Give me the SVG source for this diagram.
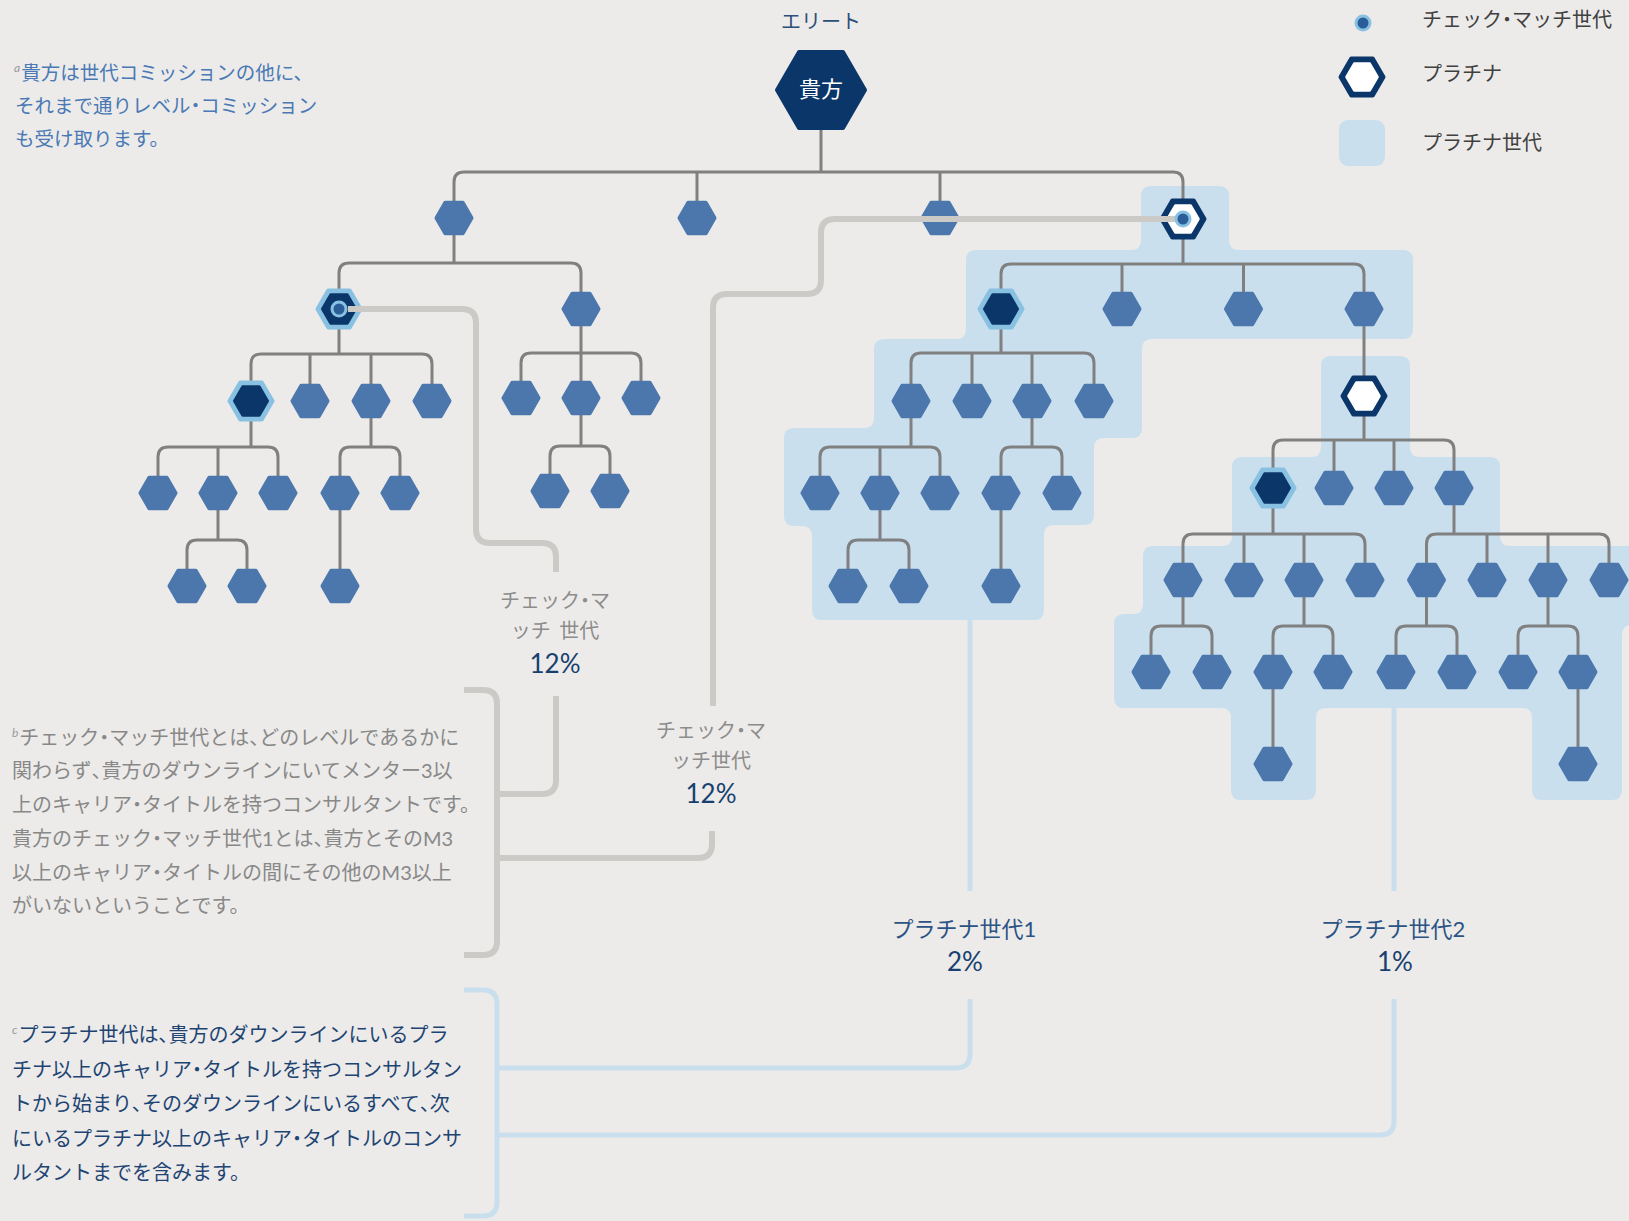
<svg xmlns="http://www.w3.org/2000/svg" xmlns:xlink="http://www.w3.org/1999/xlink" width="1629" height="1221" viewBox="0 0 1629 1221">
<style>
.hb{fill:#4C77AD;stroke:#4C77AD;stroke-width:4;stroke-linejoin:round}
.hl{fill:#88C1E2;stroke:#88C1E2;stroke-width:4;stroke-linejoin:round}
.hd{fill:#0B3669;stroke:#0B3669;stroke-width:3;stroke-linejoin:round}
.hn{fill:#0B3669;stroke:#0B3669;stroke-width:4;stroke-linejoin:round}
.hw{fill:#FFFFFF;stroke:#FFFFFF;stroke-width:2.5;stroke-linejoin:round}
.dot-o{fill:#88C1E2}
.dot-i{fill:#2B5E98}
.region{fill:#C9DFEE}
.tree{fill:none;stroke:#808080;stroke-width:3}
.cm{fill:none;stroke:#CBCAC7;stroke-width:6}
.pl{fill:none;stroke:#C9DFEE;stroke-width:5}
text{font-family:Lato,"Noto Sans CJK JP",sans-serif}
.jp{font-family:"Noto Sans CJK JP",sans-serif}
.p{font-feature-settings:"palt" 1}
.lg{font-size:20px;fill:#404040}
.na{font-size:19.5px;fill:#4A79B5}
.nb{font-size:20px;fill:#888888}
.nc{font-size:20px;fill:#1E4473}
.sup{font-size:12px;font-style:italic;fill:#9A9A9A}
.cml{font-size:20px;fill:#8C8C8C;text-anchor:middle}
.pct{font-size:26px;fill:#17406F;text-anchor:middle}
.pll{font-size:22px;fill:#2B5384;text-anchor:middle}
</style>
<defs>
<polygon id="h18" points="-17.5,0 -8.75,-15.16 8.75,-15.16 17.5,0 8.75,15.16 -8.75,15.16"/>
<polygon id="h21" points="-21.5,0 -10.75,-18.62 10.75,-18.62 21.5,0 10.75,18.62 -10.75,18.62"/>
<polygon id="h16" points="-16.5,0 -8.25,-14.29 8.25,-14.29 16.5,0 8.25,14.29 -8.25,14.29"/>
<polygon id="h15" points="-15.5,0 -7.75,-13.42 7.75,-13.42 15.5,0 7.75,13.42 -7.75,13.42"/>
<polygon id="h44" points="-44,0 -22,-38.1 22,-38.1 44,0 22,38.1 -22,38.1"/>
<g id="blue"><use xlink:href="#h18" class="hb"/></g>
<g id="cmnode"><use xlink:href="#h21" class="hl"/><use xlink:href="#h16" class="hd"/></g>
<g id="plat"><use xlink:href="#h21" class="hn"/><use xlink:href="#h15" class="hw"/></g>
<g id="dot"><circle r="8.5" class="dot-o"/><circle r="5.5" class="dot-i"/></g>
</defs>
<rect x="0" y="0" width="1629" height="1221" fill="#ECEBE9"/>

<g id="platinum-regions">
<path id="region-gen1" class="region" d="M 1151 186 H 1219 Q 1229 186 1229 196 V 240 Q 1229 250 1239 250 H 1403 Q 1413 250 1413 260 V 329 Q 1413 339 1403 339 H 1152 Q 1142 339 1142 349 V 428 Q 1142 438 1132 438 H 1104 Q 1094 438 1094 448 V 515 Q 1094 525 1084 525 H 1054 Q 1044 525 1044 535 V 610 Q 1044 620 1034 620 H 822 Q 812 620 812 610 V 536 Q 812 526 802 526 H 794 Q 784 526 784 516 V 438 Q 784 428 794 428 H 864 Q 874 428 874 418 V 349 Q 874 339 884 339 H 956 Q 966 339 966 329 V 260 Q 966 250 976 250 H 1131 Q 1141 250 1141 240 V 196 Q 1141 186 1151 186 Z"/>
<path id="region-gen2" class="region" d="M 1331 356 H 1400 Q 1410 356 1410 366 V 447 Q 1410 457 1420 457 H 1490 Q 1500 457 1500 467 V 536 Q 1500 546 1510 546 H 1640 V 625 H 1632 Q 1622 625 1622 635 V 790 Q 1622 800 1612 800 H 1542 Q 1532 800 1532 790 V 718 Q 1532 708 1522 708 H 1326 Q 1316 708 1316 718 V 790 Q 1316 800 1306 800 H 1241 Q 1231 800 1231 790 V 718 Q 1231 708 1221 708 H 1124 Q 1114 708 1114 698 V 624 Q 1114 614 1124 614 H 1133 Q 1143 614 1143 604 V 556 Q 1143 546 1153 546 H 1222 Q 1232 546 1232 536 V 467 Q 1232 457 1242 457 H 1311 Q 1321 457 1321 447 V 366 Q 1321 356 1331 356 Z"/>
</g>

<g id="connectors">
<path class="tree" d="M 821 90 V 172 M 454 218 V 182 Q 454 172 464 172 H 1173 Q 1183 172 1183 182 V 219 M 697 172 V 218 M 940 172 V 218"/>
<path class="tree" d="M 454 218 V 263 M 339 309 V 273 Q 339 263 349 263 H 571 Q 581 263 581 273 V 309"/>
<path class="tree" d="M 339 309 V 354 M 251 401 V 364 Q 251 354 261 354 H 422 Q 432 354 432 364 V 401 M 310 354 V 401 M 371 354 V 401"/>
<path class="tree" d="M 251 401 V 447 M 158 493 V 457 Q 158 447 168 447 H 268 Q 278 447 278 457 V 493 M 218 447 V 493"/>
<path class="tree" d="M 218 493 V 540 M 187 586 V 550 Q 187 540 197 540 H 237 Q 247 540 247 550 V 586"/>
<path class="tree" d="M 371 401 V 447 M 340 493 V 457 Q 340 447 350 447 H 390 Q 400 447 400 457 V 493 M 340 493 V 586"/>
<path class="tree" d="M 581 309 V 353 M 521 398 V 363 Q 521 353 531 353 H 631 Q 641 353 641 363 V 398 M 581 353 V 398"/>
<path class="tree" d="M 581 398 V 446 M 550 491 V 456 Q 550 446 560 446 H 600 Q 610 446 610 456 V 491"/>
<path class="tree" d="M 1183 219 V 264 M 1001 309 V 274 Q 1001 264 1011 264 H 1354 Q 1364 264 1364 274 V 309 M 1122 264 V 309 M 1243.5 264 V 309"/>
<path class="tree" d="M 1001 309 V 353 M 911 401 V 363 Q 911 353 921 353 H 1084 Q 1094 353 1094 363 V 401 M 972 353 V 401 M 1032 353 V 401"/>
<path class="tree" d="M 911 401 V 447 M 820 493 V 457 Q 820 447 830 447 H 930 Q 940 447 940 457 V 493 M 880 447 V 493"/>
<path class="tree" d="M 880 493 V 540 M 848 586 V 550 Q 848 540 858 540 H 899 Q 909 540 909 550 V 586"/>
<path class="tree" d="M 1032 401 V 447 M 1001 493 V 457 Q 1001 447 1011 447 H 1052 Q 1062 447 1062 457 V 493 M 1001 493 V 586"/>
<path class="tree" d="M 1364 309 V 396"/>
<path class="tree" d="M 1364 396 V 440 M 1273 488 V 450 Q 1273 440 1283 440 H 1444 Q 1454 440 1454 450 V 488 M 1334 440 V 488 M 1394 440 V 488"/>
<path class="tree" d="M 1273 488 V 534 M 1183 580 V 544 Q 1183 534 1193 534 H 1355 Q 1365 534 1365 544 V 580 M 1244 534 V 580 M 1304 534 V 580"/>
<path class="tree" d="M 1183 580 V 626 M 1151 672 V 636 Q 1151 626 1161 626 H 1202 Q 1212 626 1212 636 V 672"/>
<path class="tree" d="M 1304 580 V 626 M 1273 672 V 636 Q 1273 626 1283 626 H 1323 Q 1333 626 1333 636 V 672 M 1273 672 V 764"/>
<path class="tree" d="M 1454 488 V 534 M 1426.5 580 V 544 Q 1426.5 534 1436.5 534 H 1599 Q 1609 534 1609 544 V 580 M 1487 534 V 580 M 1548 534 V 580"/>
<path class="tree" d="M 1426.5 580 V 626 M 1396 672 V 636 Q 1396 626 1406 626 H 1447 Q 1457 626 1457 636 V 672"/>
<path class="tree" d="M 1548 580 V 626 M 1518 672 V 636 Q 1518 626 1528 626 H 1568 Q 1578 626 1578 636 V 672 M 1578 672 V 764"/>
<path class="pl" d="M 970 615 V 891 M 970 999 V 1054 Q 970 1068 956 1068 H 497"/>
<path class="pl" d="M 1394 700 V 891 M 1394 999 V 1121 Q 1394 1135 1380 1135 H 497"/>
<path class="pl" d="M 464 990 H 483 Q 497 990 497 1004 V 1202 Q 497 1216 483 1216 H 464"/>
<path class="cm" d="M 556 696 V 780 Q 556 794 542 794 H 497"/>
<path class="cm" d="M 712 831 V 844 Q 712 858 698 858 H 497"/>
<path class="cm" d="M 464 690 H 483 Q 497 690 497 704 V 941 Q 497 955 483 955 H 464"/>
</g>

<g id="nodes">
<g id="n-root"><use xlink:href="#h44" class="hn" transform="translate(821,90)"/><text x="821" y="97" class="jp" font-size="22" fill="#FFFFFF" text-anchor="middle">貴方</text></g>
<g id="n-l1-1"><use xlink:href="#blue" x="454" y="218"/></g>
<g id="n-l1-2"><use xlink:href="#blue" x="697" y="218"/></g>
<g id="n-l1-3"><use xlink:href="#blue" x="940" y="218"/></g>
<g id="n-p1"><use xlink:href="#plat" x="1183" y="219"/></g>
<g id="n-b"><use xlink:href="#cmnode" x="339" y="309"/></g>
<g id="n-c"><use xlink:href="#blue" x="581" y="309"/></g>
<g id="n-b1"><use xlink:href="#cmnode" x="251" y="401"/></g>
<g id="n-b2"><use xlink:href="#blue" x="310" y="401"/></g>
<g id="n-b3"><use xlink:href="#blue" x="371" y="401"/></g>
<g id="n-b4"><use xlink:href="#blue" x="432" y="401"/></g>
<g id="n-b1a"><use xlink:href="#blue" x="158" y="493"/></g>
<g id="n-b1b"><use xlink:href="#blue" x="218" y="493"/></g>
<g id="n-b1c"><use xlink:href="#blue" x="278" y="493"/></g>
<g id="n-b3a"><use xlink:href="#blue" x="340" y="493"/></g>
<g id="n-b3b"><use xlink:href="#blue" x="400" y="493"/></g>
<g id="n-b1b1"><use xlink:href="#blue" x="187" y="586"/></g>
<g id="n-b1b2"><use xlink:href="#blue" x="247" y="586"/></g>
<g id="n-b3a1"><use xlink:href="#blue" x="340" y="586"/></g>
<g id="n-c1"><use xlink:href="#blue" x="521" y="398"/></g>
<g id="n-c2"><use xlink:href="#blue" x="581" y="398"/></g>
<g id="n-c3"><use xlink:href="#blue" x="641" y="398"/></g>
<g id="n-c2a"><use xlink:href="#blue" x="550" y="491"/></g>
<g id="n-c2b"><use xlink:href="#blue" x="610" y="491"/></g>
<g id="n-d1"><use xlink:href="#cmnode" x="1001" y="309"/></g>
<g id="n-d2"><use xlink:href="#blue" x="1122" y="309"/></g>
<g id="n-d3"><use xlink:href="#blue" x="1243.5" y="309"/></g>
<g id="n-d4"><use xlink:href="#blue" x="1364" y="309"/></g>
<g id="n-d1a"><use xlink:href="#blue" x="911" y="401"/></g>
<g id="n-d1b"><use xlink:href="#blue" x="972" y="401"/></g>
<g id="n-d1c"><use xlink:href="#blue" x="1032" y="401"/></g>
<g id="n-d1d"><use xlink:href="#blue" x="1094" y="401"/></g>
<g id="n-d1a1"><use xlink:href="#blue" x="820" y="493"/></g>
<g id="n-d1a2"><use xlink:href="#blue" x="880" y="493"/></g>
<g id="n-d1a3"><use xlink:href="#blue" x="940" y="493"/></g>
<g id="n-d1c1"><use xlink:href="#blue" x="1001" y="493"/></g>
<g id="n-d1c2"><use xlink:href="#blue" x="1062" y="493"/></g>
<g id="n-d1a2a"><use xlink:href="#blue" x="848" y="586"/></g>
<g id="n-d1a2b"><use xlink:href="#blue" x="909" y="586"/></g>
<g id="n-d1c1a"><use xlink:href="#blue" x="1001" y="586"/></g>
<g id="n-p2"><use xlink:href="#plat" x="1364" y="396"/></g>
<g id="n-e1"><use xlink:href="#cmnode" x="1273" y="488"/></g>
<g id="n-e2"><use xlink:href="#blue" x="1334" y="488"/></g>
<g id="n-e3"><use xlink:href="#blue" x="1394" y="488"/></g>
<g id="n-e4"><use xlink:href="#blue" x="1454" y="488"/></g>
<g id="n-e1a"><use xlink:href="#blue" x="1183" y="580"/></g>
<g id="n-e1b"><use xlink:href="#blue" x="1244" y="580"/></g>
<g id="n-e1c"><use xlink:href="#blue" x="1304" y="580"/></g>
<g id="n-e1d"><use xlink:href="#blue" x="1365" y="580"/></g>
<g id="n-e4a"><use xlink:href="#blue" x="1426.5" y="580"/></g>
<g id="n-e4b"><use xlink:href="#blue" x="1487" y="580"/></g>
<g id="n-e4c"><use xlink:href="#blue" x="1548" y="580"/></g>
<g id="n-e4d"><use xlink:href="#blue" x="1609" y="580"/></g>
<g id="n-e1a1"><use xlink:href="#blue" x="1151" y="672"/></g>
<g id="n-e1a2"><use xlink:href="#blue" x="1212" y="672"/></g>
<g id="n-e1c1"><use xlink:href="#blue" x="1273" y="672"/></g>
<g id="n-e1c2"><use xlink:href="#blue" x="1333" y="672"/></g>
<g id="n-e4a1"><use xlink:href="#blue" x="1396" y="672"/></g>
<g id="n-e4a2"><use xlink:href="#blue" x="1457" y="672"/></g>
<g id="n-e4c1"><use xlink:href="#blue" x="1518" y="672"/></g>
<g id="n-e4c2"><use xlink:href="#blue" x="1578" y="672"/></g>
<g id="n-e1c1a"><use xlink:href="#blue" x="1273" y="764"/></g>
<g id="n-e4c2a"><use xlink:href="#blue" x="1578" y="764"/></g>
</g>

<g id="check-match-connectors">
<path class="cm" d="M 348 309 H 462 Q 476 309 476 323 V 529 Q 476 543 490 543 H 542 Q 556 543 556 557 V 572"/>
<path class="cm" d="M 1175 219 H 835 Q 821 219 821 233 V 280 Q 821 294 807 294 H 727 Q 713 294 713 308 V 706"/>
</g>
<g id="check-match-markers">
<use xlink:href="#dot" x="339" y="309"/>
<use xlink:href="#dot" x="1183" y="219"/>
</g>

<g id="labels">
<text x="821" y="29" class="jp" font-size="20" fill="#2D4E78" text-anchor="middle">エリート</text>
<text x="555" y="608" class="cml jp">チェック<tspan class="p">・</tspan>マ</text>
<text x="555" y="638" class="cml jp">ッチ <tspan dx="4">世代</tspan></text>
<text x="555" y="673" class="pct">12%</text>
<text x="711" y="738" class="cml jp">チェック<tspan class="p">・</tspan>マ</text>
<text x="711" y="768" class="cml jp">ッチ世代</text>
<text x="711" y="803" class="pct">12%</text>
<text x="964" y="937" class="pll">プラチナ世代1</text>
<text x="965" y="971" class="pct">2%</text>
<text x="1393" y="937" class="pll">プラチナ世代2</text>
<text x="1395" y="971" class="pct">1%</text>
</g>

<g id="note-a">
<text x="14" y="80" class="na"><tspan class="sup" dy="-8">a</tspan><tspan dy="8" dx="1">貴方は世代コミッションの他に、</tspan></text>
<text x="15" y="113" class="na">それまで通りレベル<tspan class="p">・</tspan>コミッション</text>
<text x="15" y="146" class="na">も受け取ります。</text>
</g>
<g id="note-b">
<text x="12" y="745" class="nb"><tspan class="sup" dy="-8">b</tspan><tspan dy="8" dx="1">チェック<tspan class="p">・</tspan>マッチ世代とは<tspan class="p">、</tspan>どのレベルであるかに</tspan></text>
<text x="12" y="778" class="nb">関わらず<tspan class="p">、</tspan>貴方のダウンラインにいてメンター3以</text>
<text x="12" y="812" class="nb">上のキャリア<tspan class="p">・</tspan>タイトルを持つコンサルタントです。</text>
<text x="12" y="846" class="nb">貴方のチェック<tspan class="p">・</tspan>マッチ世代1とは<tspan class="p">、</tspan>貴方とそのM3</text>
<text x="12" y="880" class="nb">以上のキャリア<tspan class="p">・</tspan>タイトルの間にその他のM3以上</text>
<text x="12" y="913" class="nb">がいないということです。</text>
</g>
<g id="note-c">
<text x="12" y="1042" class="nc"><tspan class="sup" dy="-8">c</tspan><tspan dy="8" dx="1">プラチナ世代は<tspan class="p">、</tspan>貴方のダウンラインにいるプラ</tspan></text>
<text x="12" y="1077" class="nc">チナ以上のキャリア<tspan class="p">・</tspan>タイトルを持つコンサルタン</text>
<text x="12" y="1111" class="nc">トから始まり<tspan class="p">、</tspan>そのダウンラインにいるすべて<tspan class="p">、</tspan>次</text>
<text x="12" y="1146" class="nc">にいるプラチナ以上のキャリア<tspan class="p">・</tspan>タイトルのコンサ</text>
<text x="12" y="1180" class="nc">ルタントまでを含みます。</text>
</g>

<g id="legend">
<g id="legend-check-match"><use xlink:href="#dot" x="1363" y="23"/><text x="1422" y="27" class="lg jp">チェック<tspan class="p">・</tspan>マッチ世代</text></g>
<g id="legend-platinum"><use xlink:href="#plat" x="1362" y="77"/><text x="1422" y="81" class="lg jp">プラチナ</text></g>
<g id="legend-platinum-gen"><rect x="1339" y="120" width="46" height="46" rx="9" class="region"/><text x="1422" y="150" class="lg jp">プラチナ世代</text></g>
</g>
</svg>
